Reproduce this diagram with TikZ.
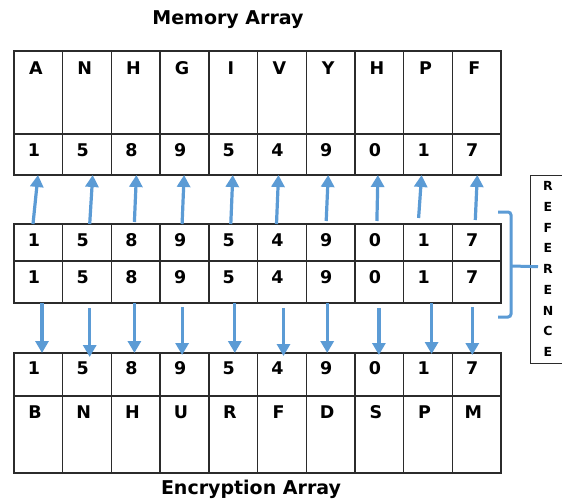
\documentclass[tikz,border=0pt]{standalone}
\usepackage{fontspec}
\setmainfont{DejaVu Sans}
\usetikzlibrary{arrows.meta,calc}
\definecolor{arrblue}{HTML}{5B9BD5}
\definecolor{gridgray}{HTML}{2B2B2B}
\begin{document}
\begin{tikzpicture}[x=1pt,y=-1pt,
  cell/.style={draw=gridgray,line width=1.4pt,minimum width=48.7pt,inner sep=0pt,anchor=north west,outer sep=0pt},
  celltxt/.style={font=\bfseries\fontsize{17.5}{17.5}\selectfont,inner sep=0pt,anchor=center},
  title/.style={font=\bfseries\fontsize{19}{19}\selectfont,inner sep=0pt},
  conn/.style={draw=arrblue,line width=3.2pt,-{Triangle[length=12pt,width=13pt]}},
  brack/.style={draw=arrblue,line width=3pt,rounded corners=3pt},
  reftxt/.style={font=\bfseries\fontsize{12.5}{12.5}\selectfont,inner sep=0pt}]
\useasboundingbox[fill=white] (0,0) rectangle (562,500);

\node[title] (tmem) at (228,20) {Memory Array};
\node[title] (tenc) at (251,489) {Encryption Array};

% top array
\foreach \c/\L/\n in {1/A/1,2/N/5,3/H/8,4/G/9,5/I/5,6/V/4,7/Y/9,8/H/0,9/P/1,10/F/7}{
  \pgfmathsetmacro{\xl}{14+(\c-1)*48.7}
  \node[cell,minimum height=83pt] (ta\c) at (\xl,51) {};
  \node[cell,minimum height=41pt] (tb\c) at (\xl,134) {};
  \node[celltxt] (tal\c) at ($(ta\c.north west)+(22,17)$) {\L};
  \node[celltxt] (tbl\c) at ($(tb\c.north west)+(20,16)$) {\n};
  % middle
  \node[cell,minimum height=37pt] (ma\c) at (\xl,224) {};
  \node[cell,minimum height=42pt] (mb\c) at (\xl,261) {};
  \node[celltxt] (mal\c) at ($(ma\c.north west)+(20,16)$) {\n};
  \node[celltxt] (mbl\c) at ($(mb\c.north west)+(20,16)$) {\n};
  % bottom
  \node[cell,minimum height=43pt] (ba\c) at (\xl,353) {};
  \node[celltxt] (bal\c) at ($(ba\c.north west)+(20,15)$) {\n};
}
\foreach \c/\L in {1/B,2/N,3/H,4/U,5/R,6/F,7/D,8/S,9/P,10/M}{
  \pgfmathsetmacro{\xl}{14+(\c-1)*48.7}
  \node[cell,minimum height=77pt] (bb\c) at (\xl,396) {};
  \node[celltxt] (bbl\c) at ($(bb\c.north west)+(21,16)$) {\L};
}

% up arrows: column / start dx / end dx / start dy
\foreach \c/\s/\e/\sy in {1/19/24/0,2/27/30/0,3/23/25/2,4/22/24/0,5/22/24/0,6/19/21/0,7/20/22/3,8/22/23/3,9/15/18/6,10/23/25/4}{
  \draw[conn] ($(ma\c.north west)+(\s,-\sy)$) -- ($(tb\c.south west)+(\e,0)$);
}
% down arrows
\foreach \c/\x/\sy/\ey in {1/28/0/0,2/27/5/4,3/23/0/0,4/22/4/2,5/26/0/0,6/26/5/3,7/21/0/0,8/24/5/2,9/28/0/1,10/20/4/2}{
  \draw[conn] ($(mb\c.south west)+(\x,\sy)$) -- ($(ba\c.north west)+(\x,\ey)$);
}

% reference box
\node[draw=gridgray,line width=1.4pt,minimum width=33pt,minimum height=188pt,anchor=north west,inner sep=0pt] (refbox) at (530,175) {};
\foreach \i/\ch in {0/R,1/E,2/F,3/E,4/R,5/E,6/N,7/C,8/E}{
  \node[reftxt] (rl\i) at ($(refbox.north west)+(18,11+\i*20.75)$) {\ch};
}
% bracket
\coordinate (bt) at ($(ma10.north east)+(-3,-12)$);
\coordinate (bb) at ($(mb10.south east)+(-3,14)$);
\draw[brack] (bt) -| ($(bt)+(13,53)$) |- (bb);
\draw[draw=arrblue,line width=3pt] ($(bt)+(13,54)$) -- ($(refbox.west)+(8,-3)$);
\end{tikzpicture}
\end{document}
